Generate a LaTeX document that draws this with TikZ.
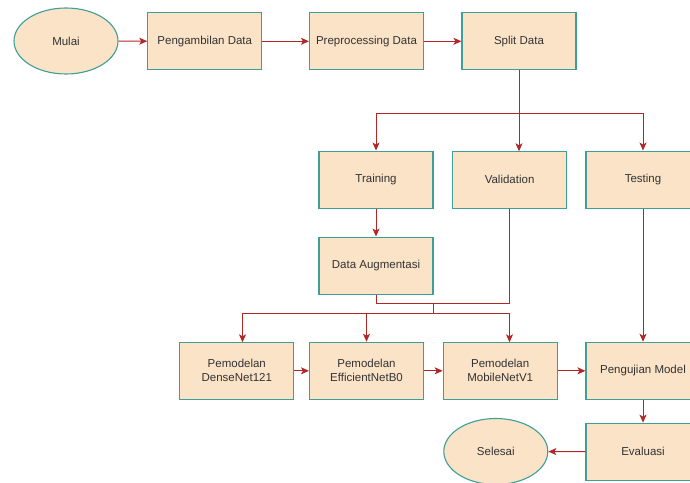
\documentclass[tikz,border=0pt]{standalone}
\usepackage{fontspec}
\setmainfont{Liberation Sans}
\usetikzlibrary{arrows.meta,shapes.geometric}
\definecolor{boxfill}{RGB}{250,227,199}
\definecolor{boxline}{RGB}{62,158,152}
\definecolor{arrowred}{RGB}{178,38,38}
\definecolor{txt}{RGB}{51,51,51}
\tikzset{
  procbox/.style={draw=boxline, line width=1.1pt, fill=boxfill, rectangle,
    minimum width=114pt, minimum height=57pt, inner sep=0pt, align=center,
    text=txt, font=\fontsize{11.5}{14}\selectfont},
  termbox/.style={draw=boxline, line width=1.1pt, fill=boxfill, ellipse,
    minimum width=104pt, minimum height=66pt, inner sep=0pt, align=center,
    text=txt, font=\fontsize{11.5}{14}\selectfont},
  arr/.style={draw=arrowred, line width=1pt, -{Stealth[length=8pt,width=7pt,inset=2pt]}},
  ln/.style={draw=arrowred, line width=1pt}
}
\begin{document}
\begin{tikzpicture}[x=1pt,y=-1pt]
\useasboundingbox (0,0) rectangle (690,482);
\node[termbox] (mulai) at (66,41) {Mulai};
\node[procbox] (ambil) at (204.8,41.3) {Pengambilan Data};
\node[procbox] (prep) at (366.5,41.3) {Preprocessing Data};
\node[procbox] (split) at (519,41.3) {Split Data};
\node[procbox] (train) at (376,179.6) {Training};
\node[procbox] (val) at (509.6,179.6) {Validation};
\node[procbox] (test) at (643,179.6) {Testing};
\node[procbox] (aug) at (376,265.6) {Data Augmentasi};
\node[procbox] (dense) at (236.8,370.8) {Pemodelan\\DenseNet121};
\node[procbox] (eff) at (366.5,370.8) {Pemodelan\\EfficientNetB0};
\node[procbox] (mob) at (500.2,370.8) {Pemodelan\\MobileNetV1};
\node[procbox] (uji) at (643,370.8) {Pengujian Model};
\node[procbox] (eval) at (643,451.7) {Evaluasi};
\node[termbox] (selesai) at (495.8,451.5) {Selesai};

\coordinate (splitjoin) at (519,113);
\coordinate (valin) at (519,151.3);
\coordinate (augjoin) at (433,303);
\coordinate (modjoin) at (433,313);
\coordinate (densein) at (242.5,342.3);
\coordinate (mobin) at (509.5,342.3);

\draw[arr] (mulai) -- (ambil);
\draw[arr] (ambil) -- (prep);
\draw[arr] (prep) -- (split);
\draw[ln] (split.south) -- (splitjoin);
\draw[arr] (splitjoin) -| (train.north);
\draw[arr] (splitjoin) -| (test.north);
\draw[arr] (splitjoin) -- (valin);
\draw[arr] (train) -- (aug);
\draw[ln] (aug.south) |- (augjoin);
\draw[ln] (val.south) |- (augjoin);
\draw[ln] (augjoin) -- (modjoin);
\draw[arr] (modjoin) -| (densein);
\draw[arr] (modjoin) -| (eff.north);
\draw[arr] (modjoin) -| (mobin);
\draw[arr] (dense) -- (eff);
\draw[arr] (eff) -- (mob);
\draw[arr] (mob) -- (uji);
\draw[arr] (test) -- (uji);
\draw[arr] (uji) -- (eval);
\draw[arr] (eval) -- (selesai);
\end{tikzpicture}
\end{document}
